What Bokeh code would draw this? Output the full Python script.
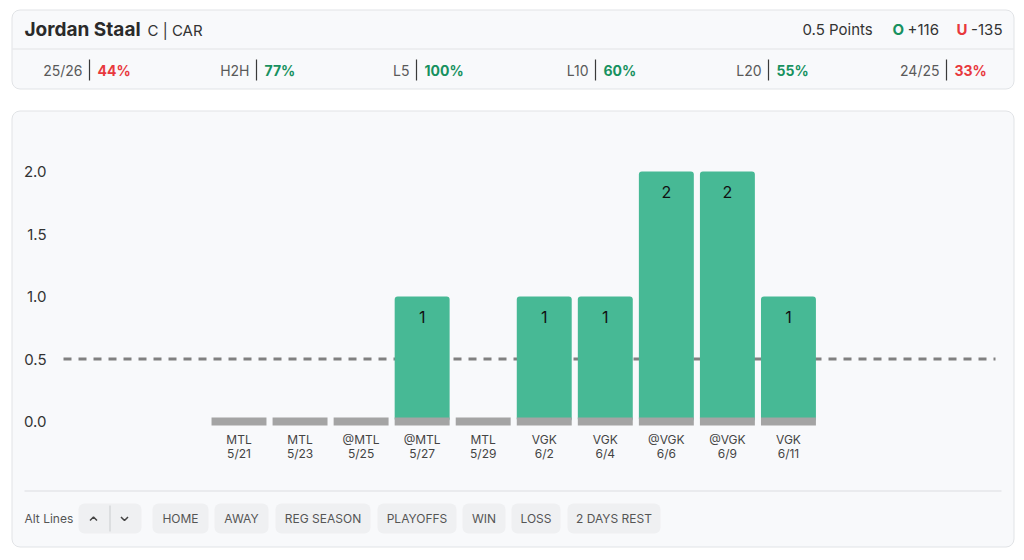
from bokeh.plotting import figure
from bokeh.models import Range1d, Label, BoxAnnotation, PolyAnnotation, ColumnDataSource
from bokeh.core.properties import value
from bokeh.embed import file_html
from bokeh.resources import INLINE

# ---------------- data ----------------
player = "Jordan Staal"
position_team = "C | CAR"
prop_text = "0.5 Points"
over_odds = "+116"
under_odds = "-135"

stat_labels = ["25/26", "H2H", "L5", "L10", "L20", "24/25"]
stat_values = [44, 77, 100, 60, 55, 33]

opponents = ["MTL", "MTL", "@MTL", "@MTL", "MTL", "VGK", "VGK", "@VGK", "@VGK", "VGK"]
dates = ["5/21", "5/23", "5/25", "5/27", "5/29", "6/2", "6/4", "6/6", "6/9", "6/11"]
points = [0, 0, 0, 1, 0, 1, 1, 2, 2, 1]
prop_line = 0.5
y_ticks = [0.0, 0.5, 1.0, 1.5, 2.0]

alt_lines_label = "Alt Lines"
filter_buttons = ["HOME", "AWAY", "REG SEASON", "PLAYOFFS", "WIN", "LOSS", "2 DAYS REST"]

# ---------------- layout constants (pixels) ----------------
W, H = 1024, 560
FIRST_PX, STEP_PX = 238.5, 61.05      # centre of first game, spacing between games
ZERO_PX, UNIT_PX = 421.0, 125.0       # pixel row of 0 points, pixels per point
FONT = "Inter"
GREEN_BAR = "#47b995"
GREEN_TXT = "#17915f"
RED_TXT = "#e8383d"
CARD_BG = "#f8f9fb"
CARD_LINE = "#e1e3e6"

stat_sep_px = [89, 256, 416, 595, 768, 946]
button_px = [(152, 208), (214, 268), (275, 370), (377, 456), (462, 505), (511, 560), (567, 660)]

x_range = Range1d(-FIRST_PX / STEP_PX, (W - FIRST_PX) / STEP_PX)
y_range = Range1d((ZERO_PX - H) / UNIT_PX, ZERO_PX / UNIT_PX)


def px_to_x(px):
    return (px - FIRST_PX) / STEP_PX


def sy(y):
    return H - y


p = figure(width=W, height=H, x_range=x_range, y_range=y_range,
           output_backend="svg", toolbar_location=None, tools="",
           x_axis_type=None, y_axis_type=None, min_border=0,
           outline_line_color=None, background_fill_color="white",
           border_fill_color="white")


def box(l, t, r, b, fill, line=None, radius=0, level="underlay", lw=1):
    p.add_layout(BoxAnnotation(
        left=l, right=r, top=sy(t), bottom=sy(b),
        left_units="screen", right_units="screen",
        top_units="screen", bottom_units="screen",
        fill_color=fill, fill_alpha=1,
        line_color=line, line_alpha=1 if line else 0, line_width=lw,
        border_radius=radius, level=level))


def label(x, y, text, size=14, color="#333333", bold=False, align="left", font=FONT):
    p.add_layout(Label(x=x, y=sy(y), x_units="screen", y_units="screen",
                       text=text, text_font=font, text_font_size=f"{size}px",
                       text_color=color, text_font_style="bold" if bold else "normal",
                       text_align=align, text_baseline="middle"))


def chevron(xs, ys):
    p.add_layout(PolyAnnotation(xs=xs, ys=[sy(v) for v in ys],
                                xs_units="screen", ys_units="screen",
                                fill_alpha=0, line_color="#444444", line_alpha=1,
                                line_width=1.5, level="overlay"))


# ---------------- header card ----------------
box(11.5, 9.5, 1013.5, 88.5, CARD_BG, CARD_LINE, radius=8)
box(12, 48, 1013, 49, CARD_LINE, level="underlay")
label(24, 29, player, size=19, color="#2a2a2a", bold=True)
label(147, 30, position_team, size=15, color="#333333")
label(802, 29, prop_text, size=15, color="#333333")
label(892, 29, "O", size=15, color=GREEN_TXT, bold=True)
label(907, 29, over_odds, size=15, color="#333333")
label(956, 29, "U", size=15, color=RED_TXT, bold=True)
label(1002, 29, under_odds, size=15, color="#333333", align="right")

for sep, name, pct in zip(stat_sep_px, stat_labels, stat_values):
    box(sep - 0.6, 59, sep + 0.6, 80, "#3a3a3a", level="overlay")
    label(sep - 7, 70, name, size=14, color="#5a5a5a", align="right")
    label(sep + 8, 70, f"{pct}%", size=14,
          color=GREEN_TXT if pct >= 50 else RED_TXT, bold=True)

# ---------------- chart card ----------------
box(11.5, 110.5, 1013.5, 546.5, CARD_BG, CARD_LINE, radius=8)
box(24, 490, 1001, 491, "#dcdee1")

for t in y_ticks:
    p.add_layout(Label(x=46, y=t, x_units="screen", y_units="data",
                       text=f"{t:.1f}", text_font=FONT, text_font_size="15px",
                       text_color="#333333", text_align="right", text_baseline="middle"))

# prop line
p.line(x=[px_to_x(63), px_to_x(995)], y=[prop_line, prop_line],
       line_color="#808080", line_width=3, line_dash="8 7")

idx = list(range(len(points)))
nz = [i for i in idx if points[i] > 0]
bars = ColumnDataSource(dict(x=nz, top=[points[i] for i in nz],
                             txt=[str(points[i]) for i in nz]))
p.vbar(x="x", top="top", bottom=0, width=0.9, source=bars,
       fill_color=GREEN_BAR, line_color=None, border_radius=3)
p.rect(x=idx, y=[0] * len(idx), width=0.9, height=8, height_units="screen",
       fill_color="#a4a4a4", line_color=None)
p.text(x="x", y="top", text="txt", source=bars, y_offset=20,
       text_align="center", text_baseline="middle",
       text_font=value(FONT), text_font_size="16px", text_color="#111111")

p.text(x=idx, y=[0] * len(idx), text=opponents, y_offset=18,
       text_align="center", text_baseline="middle",
       text_font=value(FONT), text_font_size="12px", text_color="#444444")
p.text(x=idx, y=[0] * len(idx), text=dates, y_offset=32,
       text_align="center", text_baseline="middle",
       text_font=value(FONT), text_font_size="12px", text_color="#444444")

# ---------------- controls ----------------
label(24, 518, alt_lines_label, size=12, color="#555555")
box(78, 503, 141, 533, "#eff0f2", radius=6)
box(109, 505, 110, 531, "#c9cbce", level="annotation")
chevron([89.5, 93, 96.5, 93], [520, 516.5, 520, 516.5])
chevron([120.5, 124, 127.5, 124], [516.5, 520, 516.5, 520])
for (l, r), name in zip(button_px, filter_buttons):
    box(l, 503, r, 533, "#eff0f2", radius=6)
    label((l + r) / 2, 518, name, size=12, color="#555555", align="center")

open("out.html", "w").write(file_html(p, INLINE))
